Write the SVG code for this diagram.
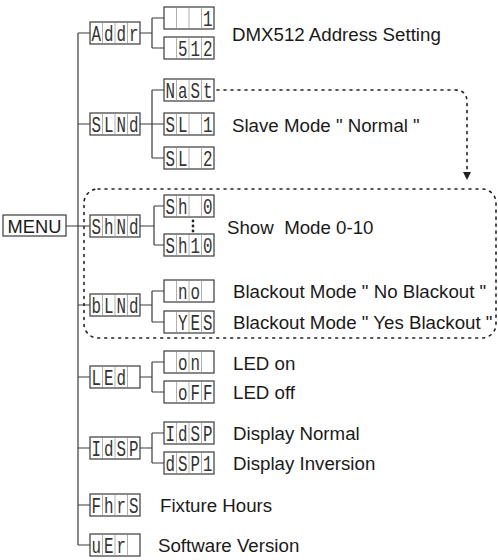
<svg xmlns="http://www.w3.org/2000/svg" xmlns:xlink="http://www.w3.org/1999/xlink" width="498" height="560" viewBox="0 0 498 560">
<style>
.ln{fill:none;stroke:#3a3a3a;stroke-width:1.2}
.dot{fill:none;stroke:#222;stroke-width:1.6;stroke-dasharray:2 5;stroke-linecap:round}
.lbl{font-family:"Liberation Sans",Arial,sans-serif;font-size:18.7px;fill:#1a1a1a}
.seg text{font-family:"Liberation Mono","DejaVu Sans Mono",monospace;font-size:22px;fill:#333;text-anchor:middle}
.box{fill:#fff;stroke:#3a3a3a;stroke-width:1.2}
.sep{stroke:#b0b0b0;stroke-width:1}
</style>
<defs>
<g id="disp">
<rect class="box" x="0" y="0" width="50" height="22"/>
<line class="sep" x1="12.5" y1="1" x2="12.5" y2="21"/>
<line class="sep" x1="25" y1="1" x2="25" y2="21"/>
<line class="sep" x1="37.5" y1="1" x2="37.5" y2="21"/>
</g>
<marker id="arr" viewBox="0 0 10 10" refX="10" refY="5" markerWidth="8" markerHeight="8" orient="auto" markerUnits="userSpaceOnUse">
<path d="M0,0 L10,5 L0,10 Z" fill="#222"/>
</marker>
</defs>
<rect width="498" height="560" fill="#fff"/>

<g id="connectors">
<line class="ln" x1="78" y1="33" x2="78" y2="545"/>
<path class="ln" d="M66,226 H90 M78,33 H90 M78,124 H90 M78,305 H90 M78,377 H90 M78,448 H90 M78,505 H90 M78,545 H90"/>
<path class="ln" d="M140,33 H152 M152,18 V48 M152,18 H164 M152,48 H164"/>
<path class="ln" d="M140,124 H164 M152,90 V158 M152,90 H164 M152,158 H164"/>
<path class="ln" d="M140,226 H154 M154,206 V245 M154,206 H164 M154,245 H164"/>
<path class="ln" d="M140,305 H152 M152,291 V322 M152,291 H164 M152,322 H164"/>
<path class="ln" d="M140,377 H152 M152,362 V392 M152,362 H164 M152,392 H164"/>
<path class="ln" d="M140,448 H152 M152,433 V463 M152,433 H164 M152,463 H164"/>
<path class="dot" d="M217,90 H455 Q467,90 467,102 V180" marker-end="url(#arr)"/>
<rect class="dot" x="84" y="189" width="412" height="149" rx="14" ry="14"/>
<circle cx="193" cy="221" r="1.4" fill="#222"/>
<circle cx="193" cy="226" r="1.4" fill="#222"/>
<circle cx="193" cy="231" r="1.4" fill="#222"/>
</g>

<g id="menu">
<rect class="box" x="3" y="215" width="63" height="21"/>
<text class="lbl" x="34.5" y="232.5" text-anchor="middle" style="font-size:18.3px">MENU</text>
</g>

<g id="addr" transform="translate(90,22)"><use xlink:href="#disp"/><g class="seg" transform="scale(0.72,1)"><text x="8.68" y="18.6">A</text><text x="26.04" y="18.6">d</text><text x="43.4" y="18.6">d</text><text x="60.76" y="18.6">r</text></g></g>
<g id="addr1" transform="translate(164,7)"><use xlink:href="#disp"/><g class="seg" transform="scale(0.72,1)"><text x="60.76" y="18.6">1</text></g></g>
<g id="addr512" transform="translate(164,37)"><use xlink:href="#disp"/><g class="seg" transform="scale(0.72,1)"><text x="26.04" y="18.6">5</text><text x="43.4" y="18.6">1</text><text x="60.76" y="18.6">2</text></g></g>

<g id="slnd" transform="translate(90,113)"><use xlink:href="#disp"/><g class="seg" transform="scale(0.72,1)"><text x="8.68" y="18.6">S</text><text x="26.04" y="18.6">L</text><text x="43.4" y="18.6">N</text><text x="60.76" y="18.6">d</text></g></g>
<g id="nast" transform="translate(164,79)"><use xlink:href="#disp"/><g class="seg" transform="scale(0.72,1)"><text x="8.68" y="18.6">N</text><text x="26.04" y="18.6">a</text><text x="43.4" y="18.6">S</text><text x="60.76" y="18.6">t</text></g></g>
<g id="sl1" transform="translate(164,113)"><use xlink:href="#disp"/><g class="seg" transform="scale(0.72,1)"><text x="8.68" y="18.6">S</text><text x="26.04" y="18.6">L</text><text x="60.76" y="18.6">1</text></g></g>
<g id="sl2" transform="translate(164,147)"><use xlink:href="#disp"/><g class="seg" transform="scale(0.72,1)"><text x="8.68" y="18.6">S</text><text x="26.04" y="18.6">L</text><text x="60.76" y="18.6">2</text></g></g>

<g id="shnd" transform="translate(90,215)"><use xlink:href="#disp"/><g class="seg" transform="scale(0.72,1)"><text x="8.68" y="18.6">S</text><text x="26.04" y="18.6">h</text><text x="43.4" y="18.6">N</text><text x="60.76" y="18.6">d</text></g></g>
<g id="sh0" transform="translate(164,195)"><use xlink:href="#disp"/><g class="seg" transform="scale(0.72,1)"><text x="8.68" y="18.6">S</text><text x="26.04" y="18.6">h</text><text x="60.76" y="18.6">0</text></g></g>
<g id="sh10" transform="translate(164,234)"><use xlink:href="#disp"/><g class="seg" transform="scale(0.72,1)"><text x="8.68" y="18.6">S</text><text x="26.04" y="18.6">h</text><text x="43.4" y="18.6">1</text><text x="60.76" y="18.6">0</text></g></g>

<g id="blnd" transform="translate(90,294)"><use xlink:href="#disp"/><g class="seg" transform="scale(0.72,1)"><text x="8.68" y="18.6">b</text><text x="26.04" y="18.6">L</text><text x="43.4" y="18.6">N</text><text x="60.76" y="18.6">d</text></g></g>
<g id="no" transform="translate(164,280)"><use xlink:href="#disp"/><g class="seg" transform="scale(0.72,1)"><text x="26.04" y="18.6">n</text><text x="43.4" y="18.6">o</text></g></g>
<g id="yes" transform="translate(164,311)"><use xlink:href="#disp"/><g class="seg" transform="scale(0.72,1)"><text x="26.04" y="18.6">Y</text><text x="43.4" y="18.6">E</text><text x="60.76" y="18.6">S</text></g></g>

<g id="led" transform="translate(90,366)"><use xlink:href="#disp"/><g class="seg" transform="scale(0.72,1)"><text x="8.68" y="18.6">L</text><text x="26.04" y="18.6">E</text><text x="43.4" y="18.6">d</text></g></g>
<g id="on" transform="translate(164,351)"><use xlink:href="#disp"/><g class="seg" transform="scale(0.72,1)"><text x="26.04" y="18.6">o</text><text x="43.4" y="18.6">n</text></g></g>
<g id="off" transform="translate(164,381)"><use xlink:href="#disp"/><g class="seg" transform="scale(0.72,1)"><text x="26.04" y="18.6">o</text><text x="43.4" y="18.6">F</text><text x="60.76" y="18.6">F</text></g></g>

<g id="idsp" transform="translate(90,437)"><use xlink:href="#disp"/><g class="seg" transform="scale(0.72,1)"><text x="8.68" y="18.6">I</text><text x="26.04" y="18.6">d</text><text x="43.4" y="18.6">S</text><text x="60.76" y="18.6">P</text></g></g>
<g id="idsp2" transform="translate(164,422)"><use xlink:href="#disp"/><g class="seg" transform="scale(0.72,1)"><text x="8.68" y="18.6">I</text><text x="26.04" y="18.6">d</text><text x="43.4" y="18.6">S</text><text x="60.76" y="18.6">P</text></g></g>
<g id="dsp1" transform="translate(164,452)"><use xlink:href="#disp"/><g class="seg" transform="scale(0.72,1)"><text x="8.68" y="18.6">d</text><text x="26.04" y="18.6">S</text><text x="43.4" y="18.6">P</text><text x="60.76" y="18.6">1</text></g></g>

<g id="fhrs" transform="translate(90,494)"><use xlink:href="#disp"/><g class="seg" transform="scale(0.72,1)"><text x="8.68" y="18.6">F</text><text x="26.04" y="18.6">h</text><text x="43.4" y="18.6">r</text><text x="60.76" y="18.6">S</text></g></g>
<g id="ver" transform="translate(90,534)"><use xlink:href="#disp"/><g class="seg" transform="scale(0.72,1)"><text x="8.68" y="18.6">u</text><text x="26.04" y="18.6">E</text><text x="43.4" y="18.6">r</text></g></g>

<g id="labels">
<text class="lbl" x="232" y="41">DMX512 Address Setting</text>
<text class="lbl" x="232" y="132">Slave Mode " Normal "</text>
<text class="lbl" x="227" y="234" style="white-space:pre">Show  Mode 0-10</text>
<text class="lbl" x="233" y="298">Blackout Mode " No Blackout "</text>
<text class="lbl" x="233" y="329">Blackout Mode " Yes Blackout "</text>
<text class="lbl" x="233" y="370">LED on</text>
<text class="lbl" x="233" y="399">LED off</text>
<text class="lbl" x="233" y="440">Display Normal</text>
<text class="lbl" x="233" y="470">Display Inversion</text>
<text class="lbl" x="160" y="512">Fixture Hours</text>
<text class="lbl" x="158" y="552">Software Version</text>
</g>
</svg>
